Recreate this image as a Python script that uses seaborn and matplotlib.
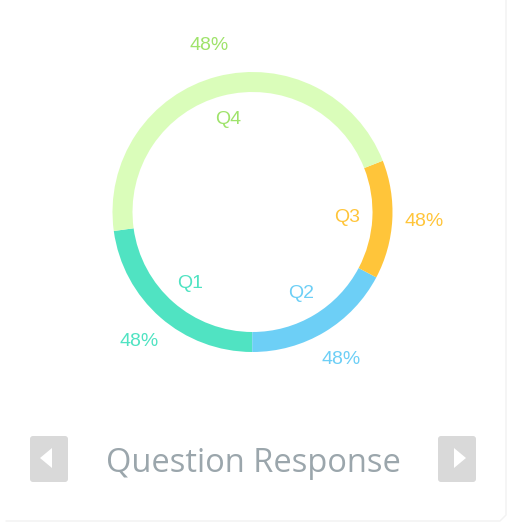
import numpy as np
import matplotlib
matplotlib.use("Agg")
import matplotlib.pyplot as plt
import seaborn as sns
from matplotlib.patches import FancyBboxPatch, Polygon

# Data
quarters = ["Q1", "Q2", "Q3", "Q4"]
shares = [22.8, 17.3, 13.7, 46.2]
pct_labels = ["48%", "48%", "48%", "48%"]
wedge_colors = ["#50E3C2", "#6DCFF6", "#FFC53A", "#DAFDBA"]
text_colors = ["#50E3C2", "#6DCFF6", "#FFC53A", "#9FE36B"]
title = "Question Response"

sns.set_theme(style="white")
plt.rcParams["font.family"] = ["Liberation Sans", "DejaVu Sans"]

W, H = 510, 526
fig = plt.figure(figsize=(W / 100, H / 100), dpi=100)
ax = fig.add_axes([0, 0, 1, 1])

cx, cy, R = 252.5, H - 212, 140
wedges, _ = ax.pie(shares, colors=wedge_colors, startangle=187.8,
                   counterclock=True, radius=R, center=(cx, cy),
                   wedgeprops=dict(width=20, linewidth=0))

# Labels placed from the wedge angles
for w, q, p, c in zip(wedges, quarters, pct_labels, text_colors):
    mid = np.deg2rad((w.theta1 + w.theta2) / 2)
    ax.text(cx + 0.68 * R * np.cos(mid), cy + 0.68 * R * np.sin(mid), q,
            color=c, fontsize=14, ha="center", va="center")
    ax.text(cx + 1.23 * R * np.cos(mid), cy + 1.23 * R * np.sin(mid), p,
            color=c, fontsize=14, ha="center", va="center")

# Faint card edge (right and bottom)
ax.plot([6, 500, 506, 506], [5, 5, 11, H], color="#F2F2F2", linewidth=1)

# Navigation buttons
for x0, pts in [(30, [(52, 78), (52, 58), (40, 68)]),
                (438, [(454, 78), (454, 58), (466, 68)])]:
    ax.add_patch(FancyBboxPatch((x0, 44), 38, 46, boxstyle="round,pad=0,rounding_size=3",
                                facecolor="#D9D9D9", edgecolor="none"))
    ax.add_patch(Polygon(pts, closed=True, facecolor="white", edgecolor="none"))

ax.text(253, 62, title, color="#9BA6AC", fontsize=23.5, ha="center", va="center",
        family=["Open Sans", "DejaVu Sans"])

ax.set_xlim(0, W)
ax.set_ylim(0, H)
ax.set_aspect("auto")
ax.axis("off")

fig.savefig("out.png", dpi=100, facecolor="white")
